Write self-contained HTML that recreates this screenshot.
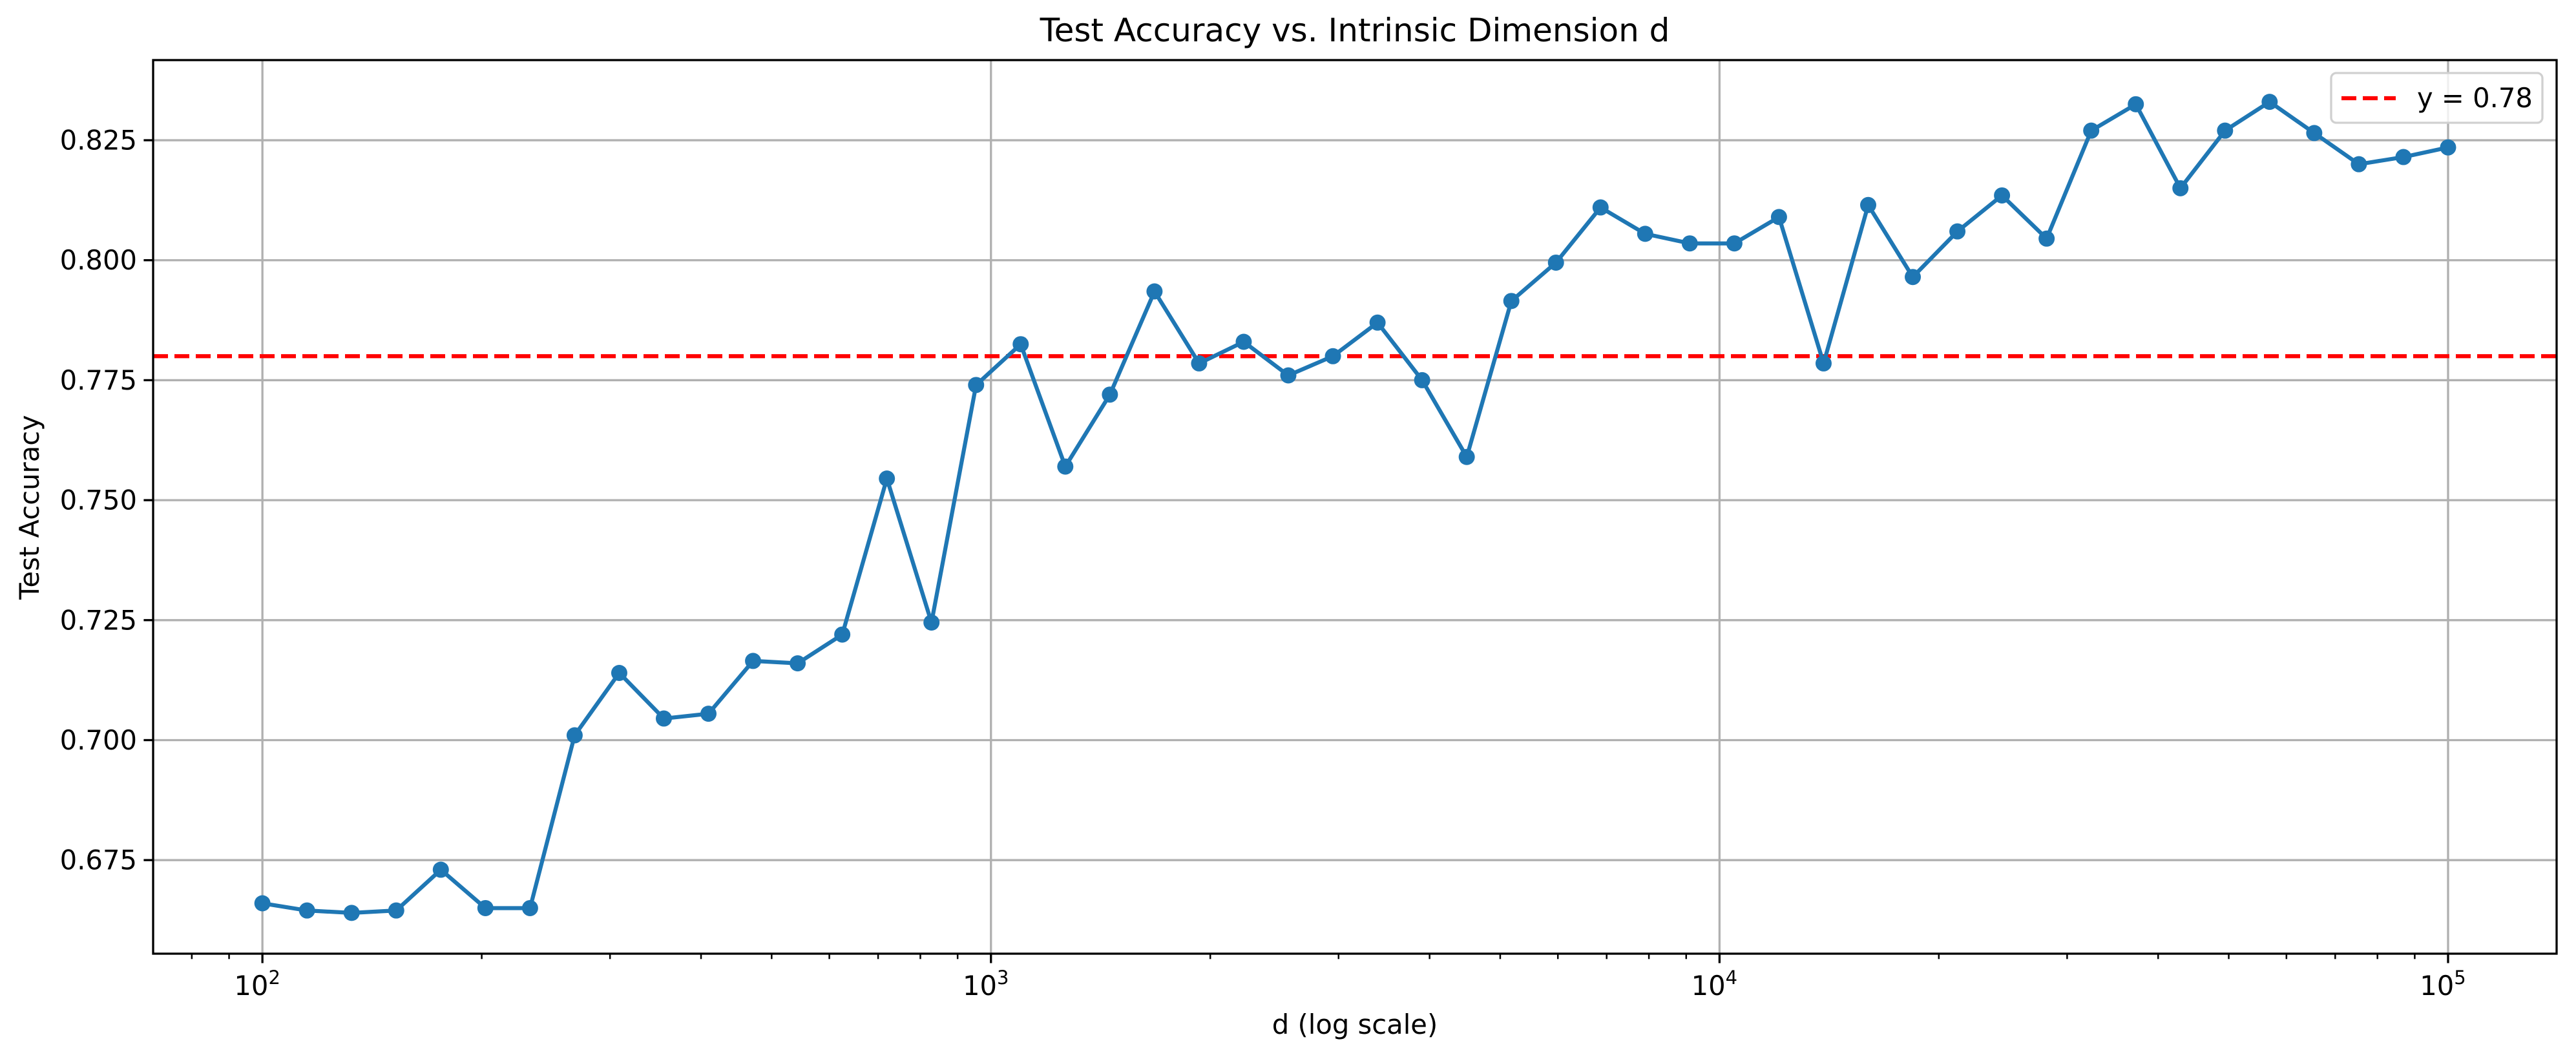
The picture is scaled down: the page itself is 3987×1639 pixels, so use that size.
<!DOCTYPE html>
<html><head><meta charset="utf-8"><style>
html,body{margin:0;padding:0;background:#fff;}
svg{display:block;font-family:"DejaVu Sans","Liberation Sans",sans-serif;}
</style></head><body>
<svg id="chart" width="3987" height="1639" viewBox="0 0 3987 1639" xmlns="http://www.w3.org/2000/svg">
<rect width="3987" height="1639" fill="#fff"/>
<g id="grid"></g><g id="refline"></g><g id="series"></g><g id="axes"></g>
<text x="2097" y="64" font-size="50" text-anchor="middle">Test Accuracy vs. Intrinsic Dimension d</text>
<text x="2097" y="1600" font-size="41.7" text-anchor="middle">d (log scale)</text>
<text transform="translate(60,785) rotate(-90)" font-size="41.7" text-anchor="middle">Test Accuracy</text>
<g>
<rect x="3608" y="113" width="327" height="77" rx="8" fill="#fff" fill-opacity="0.8" stroke="#d0d0d0" stroke-width="3.3"/>
<line x1="3624" y1="152" x2="3708" y2="152" stroke="#ff0000" stroke-width="6.25" stroke-dasharray="23 10"/>
<text x="3741" y="166" font-size="41.7">y = 0.78</text>
</g>
</svg>
<script>
const nPoints = 50;
const accuracy = [0.666,0.6645,0.664,0.6645,0.673,0.665,0.665,0.701,0.714,0.7045,
0.7055,0.7165,0.716,0.722,0.7545,0.7245,0.774,0.7825,0.757,0.772,
0.7935,0.7785,0.783,0.776,0.780,0.787,0.775,0.759,0.7915,0.7995,
0.811,0.8055,0.8035,0.8035,0.809,0.7785,0.8115,0.7965,0.806,0.8135,
0.8045,0.827,0.8325,0.815,0.827,0.833,0.8265,0.820,0.8215,0.8235];
const dims = accuracy.map((_, i) => Math.pow(10, 2 + 3 * i / (nPoints - 1)));
const yTicks = [0.675,0.700,0.725,0.750,0.775,0.800,0.825];
const xTicks = [2,3,4,5];
const refValue = 0.78;

const L=237,R=3957,T=93,B=1476;
const xMin=1.850,xMax=5.149,yMin=0.6555,yMax=0.8417;
const X=v=>L+(Math.log10(v)-xMin)/(xMax-xMin)*(R-L);
const Y=v=>B-(v-yMin)/(yMax-yMin)*(B-T);
const NS="http://www.w3.org/2000/svg";
function mk(tag,attrs,parent){const e=document.createElementNS(NS,tag);for(const k in attrs)e.setAttribute(k,attrs[k]);parent.appendChild(e);return e;}
const grid=document.getElementById('grid'),axes=document.getElementById('axes');
yTicks.forEach(t=>{
  const y=Y(t);
  const g=mk('line',{x1:L,x2:R,y1:y,y2:y,stroke:'#b0b0b0','stroke-width':3.3},grid);
  
  
  mk('line',{x1:L-14.6,x2:L,y1:y,y2:y,stroke:'#000','stroke-width':3.3},axes);
  const tx=mk('text',{x:L-25,y:y+14.5,'font-size':41.7,'text-anchor':'end'},axes);
  tx.textContent=t.toFixed(3);
  
  
});
xTicks.forEach(p=>{
  const x=X(Math.pow(10,p));
  const g=mk('line',{x1:x,x2:x,y1:T,y2:B,stroke:'#b0b0b0','stroke-width':3.3},grid);
  
  
  mk('line',{x1:x,x2:x,y1:B,y2:B+14.6,stroke:'#000','stroke-width':3.3},axes);
  const tx=mk('text',{x:x-8,y:1540,'font-size':41.7,'text-anchor':'middle'},axes);
  tx.textContent='10';
  const sp=mk('tspan',{dy:-17,'font-size':29},tx);sp.textContent=String(p);
  
  
});
for(let p=1;p<=5;p++)for(let m=2;m<=9;m++){
  const v=m*Math.pow(10,p),lv=Math.log10(v);
  if(lv<xMin||lv>xMax)continue;
  const x=X(v);
  mk('line',{x1:x,x2:x,y1:B,y2:B+8.3,stroke:'#000','stroke-width':2.5},axes);
}
const ry=Y(refValue);
const rl=mk('line',{x1:L,x2:R,y1:ry,y2:ry,stroke:'#ff0000','stroke-width':6.25,'stroke-dasharray':'23 10'},document.getElementById('refline'));


const ser=document.getElementById('series');
const pl=mk('polyline',{points:dims.map((d,i)=>X(d)+','+Y(accuracy[i])).join(' '),fill:'none',stroke:'#1f77b4','stroke-width':6.25,'stroke-linejoin':'round'},ser);


dims.forEach((d,i)=>{
  const c=mk('circle',{cx:X(d),cy:Y(accuracy[i]),r:12.5,fill:'#1f77b4'},ser);
  
  
});
const fr=mk('rect',{x:L,y:T,width:R-L,height:B-T,fill:'none',stroke:'#000','stroke-width':3.3},axes);


</script>
</body></html>
